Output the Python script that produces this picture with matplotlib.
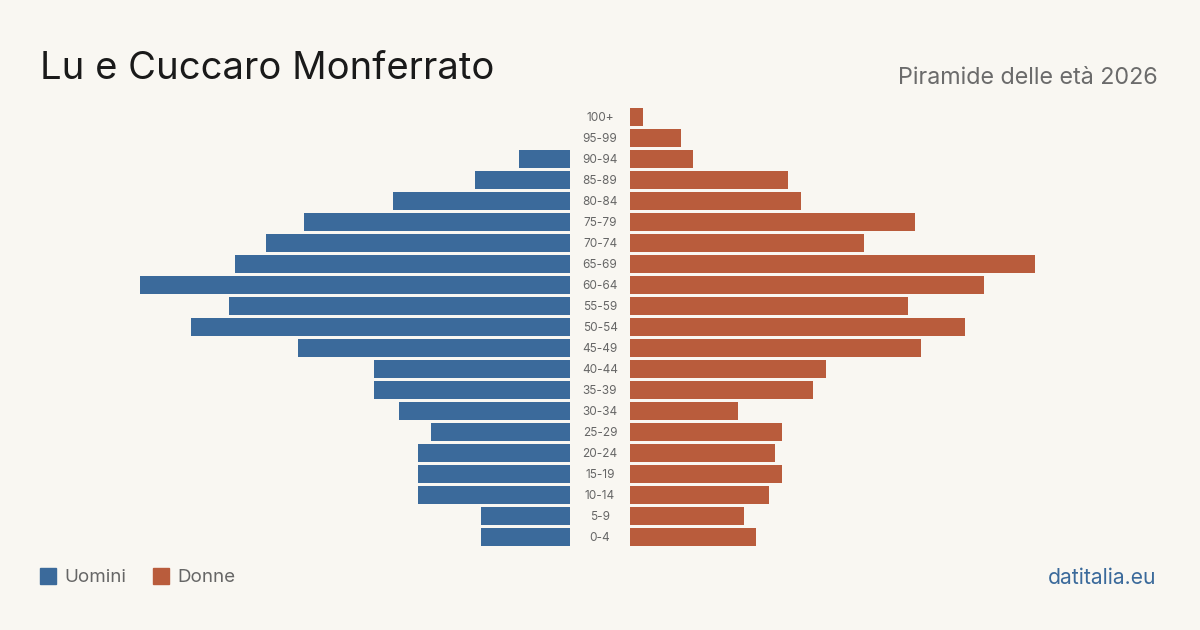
import matplotlib
matplotlib.use("Agg")
import matplotlib.pyplot as plt
from matplotlib.patches import Rectangle

age_groups = ["100+", "95-99", "90-94", "85-89", "80-84", "75-79", "70-74", "65-69",
              "60-64", "55-59", "50-54", "45-49", "40-44", "35-39", "30-34", "25-29",
              "20-24", "15-19", "10-14", "5-9", "0-4"]
men = [0, 0, 8, 15, 28, 42, 48, 53, 68, 54, 60, 43, 31, 31, 27, 22, 24, 24, 24, 14, 14]
women = [2, 8, 10, 25, 27, 45, 37, 64, 56, 44, 53, 46, 31, 29, 17, 24, 23, 24, 22, 18, 20]

title = "Lu e Cuccaro Monferrato"
subtitle = "Piramide delle età 2026"
source = "datitalia.eu"
legend_labels = ["Uomini", "Donne"]

BG = "#f9f7f2"
BLUE = "#3b6a9b"
RED = "#b95c3c"
FONT = ["Inter", "DejaVu Sans"]

W, H = 1200, 630
fig = plt.figure(figsize=(12, 6.3), dpi=100, facecolor=BG)

xmax = max(max(men), max(women))
n = len(age_groups)
ypos = list(range(n))

def fx(px):
    return px / W

def fy(py):
    return 1 - py / H

ax_bottom = fy(547.5)
ax_h = 441 / H
axL = fig.add_axes([fx(140), ax_bottom, fx(430), ax_h])
axR = fig.add_axes([fx(630), ax_bottom, fx(430), ax_h])

for ax in (axL, axR):
    ax.set_facecolor("none")
    ax.set_ylim(n - 0.5, -0.5)
    for s in ax.spines.values():
        s.set_visible(False)
    ax.set_xticks([])
    ax.set_yticks([])

axL.barh(ypos, men, height=0.81, color=BLUE)
axL.set_xlim(xmax, 0)
axR.barh(ypos, women, height=0.81, color=RED)
axR.set_xlim(0, xmax)

# age labels in the centre
for i, lab in enumerate(age_groups):
    y = fy(118 + 21 * i)
    fig.text(fx(600), y, lab, ha="center", va="center", fontsize=8.5,
             color="#666666", family=FONT)

fig.text(fx(40), fy(79), title, ha="left", va="baseline", fontsize=27.5,
         color="#1a1a1a", family=FONT)
fig.text(fx(1158), fy(84), subtitle, ha="right", va="baseline", fontsize=16.8,
         color="#6b6b6b", family=FONT)

# legend
fig.patches.append(Rectangle((fx(40), fy(584)), fx(16), 16 / H, transform=fig.transFigure,
                             color=BLUE))
fig.text(fx(64), fy(578), legend_labels[0], ha="left", va="center", fontsize=13.5,
         color="#666666", family=FONT)
fig.patches.append(Rectangle((fx(152.5), fy(584)), fx(16), 16 / H, transform=fig.transFigure,
                             color=RED))
fig.text(fx(177), fy(578), legend_labels[1], ha="left", va="center", fontsize=13.5,
         color="#666666", family=FONT)

fig.text(fx(1156), fy(578), source, ha="right", va="center", fontsize=15.2,
         color="#3b6a9b", family=FONT)

fig.savefig("out.png", dpi=100, facecolor=BG)
